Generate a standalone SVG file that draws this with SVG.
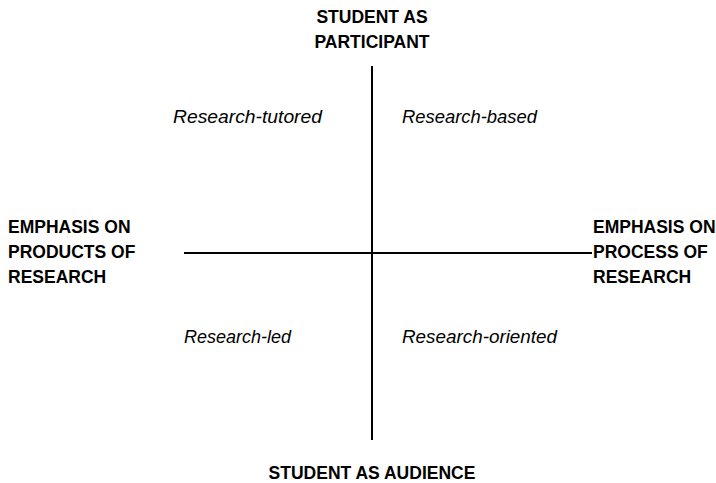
<svg xmlns="http://www.w3.org/2000/svg" width="716" height="483" viewBox="0 0 716 483">
<style>
.b{font-family:"Liberation Sans",Arial,sans-serif;font-weight:bold;font-size:17.5px;fill:#000}
.i{font-family:"Liberation Sans",Arial,sans-serif;font-style:italic;font-size:18px;fill:#000}
.ax{stroke:#000;stroke-width:2;fill:none}
</style>
<rect width="716" height="483" fill="#fff"/>
<g id="connectors">
<line class="ax" x1="372" y1="66" x2="372" y2="440"/>
<line class="ax" x1="184" y1="253" x2="592" y2="253"/>
</g>
<g id="top">
<text class="b" x="372" y="23" text-anchor="middle">STUDENT AS</text>
<text class="b" x="372" y="48" text-anchor="middle">PARTICIPANT</text>
</g>
<g id="bottom">
<text class="b" x="372" y="479" text-anchor="middle">STUDENT AS AUDIENCE</text>
</g>
<g id="left">
<text class="b" x="8" y="233">EMPHASIS ON</text>
<text class="b" x="8" y="258">PRODUCTS OF</text>
<text class="b" x="8" y="283">RESEARCH</text>
</g>
<g id="right">
<text class="b" x="593" y="233">EMPHASIS ON</text>
<text class="b" x="593" y="258">PROCESS OF</text>
<text class="b" x="593" y="283">RESEARCH</text>
</g>
<g id="q-tutored"><text class="i" x="173" y="123" textLength="149" lengthAdjust="spacingAndGlyphs">Research-tutored</text></g>
<g id="q-based"><text class="i" x="402" y="123" textLength="135" lengthAdjust="spacingAndGlyphs">Research-based</text></g>
<g id="q-led"><text class="i" x="184" y="343" textLength="107" lengthAdjust="spacingAndGlyphs">Research-led</text></g>
<g id="q-oriented"><text class="i" x="402" y="343" textLength="155" lengthAdjust="spacingAndGlyphs">Research-oriented</text></g>
</svg>
